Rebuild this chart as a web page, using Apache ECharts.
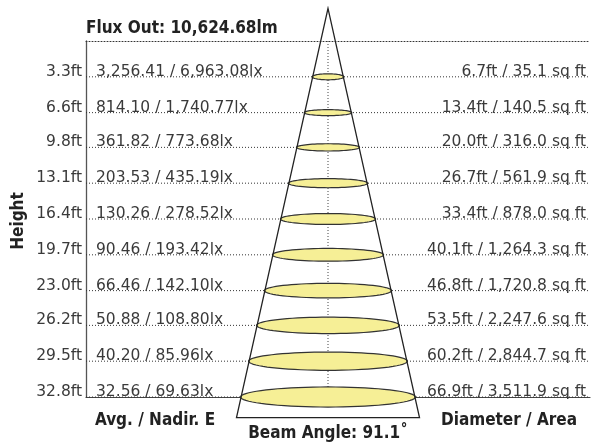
<!DOCTYPE html>
<html><head><meta charset="utf-8">
<script src="https://cdn.jsdelivr.net/npm/echarts@6/dist/echarts.min.js"></script>
<style>html,body{margin:0;padding:0;background:#fff}#c{width:592px;height:445px}</style>
</head><body><div id="c"></div>
<script>
// ---- data ----
const fluxOut = 10624.68;            // lm
const beamAngle = 91.1;              // degrees
const heights = [3.3, 6.6, 9.8, 13.1, 16.4, 19.7, 23.0, 26.2, 29.5, 32.8];   // ft
const avgLux = [3256.41, 814.10, 361.82, 203.53, 130.26, 90.46, 66.46, 50.88, 40.20, 32.56];
const nadirLux = [6963.08, 1740.77, 773.68, 435.19, 278.52, 193.42, 142.10, 108.80, 85.96, 69.63];
const diameters = [6.7, 13.4, 20.0, 26.7, 33.4, 40.1, 46.8, 53.5, 60.2, 66.9];  // ft
const areas = [35.1, 140.5, 316.0, 561.9, 878.0, 1264.3, 1720.8, 2247.6, 2844.7, 3511.9]; // sq ft

// ---- drawing constants (style) ----
const maxH = 32.8;
const apexH = -3.0;    // virtual apex of drawn cone (ft, above the top line)
const baseH = 34.7;    // bottom edge of drawn cone
const halfTan = Math.tan(beamAngle / 2 * Math.PI / 180);
const REG = "15.5px 'DejaVu Sans', sans-serif";
const BOLD = "bold 17px 'Liberation Sans Narrow', 'DejaVu Sans Condensed', sans-serif";
const TXT = '#3a3a3a';

function fmt(v, d) {
  const s = v.toFixed(d).split('.');
  s[0] = s[0].replace(/\B(?=(\d{3})+(?!\d))/g, ',');
  return s.join('.');
}

const chart = echarts.init(document.getElementById('c'), null, {renderer: 'canvas'});

const rowData = heights.map((h, i) => [h, i]);

const option = {
  animation: false,
  backgroundColor: '#fff',
  grid: [
    {left: 86, right: 2, top: 41, bottom: 48},
    {left: 228, width: 200, top: 41, bottom: 48}
  ],
  xAxis: [
    {gridIndex: 0, type: 'value', min: 0, max: 1, position: 'bottom',
     axisLine: {show: true, onZero: false, lineStyle: {color: '#444', width: 1.2}},
     axisTick: {show: false}, axisLabel: {show: false}, splitLine: {show: false}},
    {gridIndex: 0, type: 'value', min: 0, max: 1, position: 'top',
     axisLine: {show: true, onZero: false, lineStyle: {color: '#333', width: 1, type: [1, 2]}},
     axisTick: {show: false}, axisLabel: {show: false}, splitLine: {show: false}},
    {gridIndex: 1, type: 'value', min: -42, max: 42, show: false}
  ],
  yAxis: [
    {gridIndex: 0, type: 'value', min: 0, max: maxH, inverse: true,
     axisLine: {show: true, onZero: false, lineStyle: {color: '#555', width: 1.3}},
     axisTick: {show: false}, axisLabel: {show: false}, splitLine: {show: false}},
    {gridIndex: 1, type: 'value', min: 0, max: maxH, inverse: true, show: false}
  ],
  graphic: [
    {type: 'text', left: 86, top: 20, style: {text: 'Flux Out: ' + fmt(fluxOut, 2) + 'lm', font: BOLD, fill: '#222'}},
    {type: 'text', x: 19, y: 221, rotation: Math.PI / 2,
     style: {text: 'Height', font: BOLD, fill: '#222', align: 'center', verticalAlign: 'middle'}},
    {type: 'text', x: 155, y: 421, style: {text: 'Avg. / Nadir. E', font: BOLD, fill: '#222', align: 'center', verticalAlign: 'middle'}},
    {type: 'text', x: 509, y: 421, style: {text: 'Diameter / Area', font: BOLD, fill: '#222', align: 'center', verticalAlign: 'middle'}},
    {type: 'text', x: 328, y: 434, style: {text: 'Beam Angle: ' + beamAngle.toFixed(1) + '\u02DA', font: BOLD, fill: '#222', align: 'center', verticalAlign: 'middle'}}
  ],
  series: [
    {
      name: 'rows', type: 'custom', xAxisIndex: 0, yAxisIndex: 0, silent: true,
      data: rowData,
      renderItem: function (params, api) {
        const h = api.value(0), i = api.value(1);
        const y = api.coord([0, h])[1];
        const cs = params.coordSys;
        const x0 = cs.x, x1 = cs.x + cs.width;
        return {
          type: 'group',
          children: [
            {type: 'line', shape: {x1: x0, y1: y, x2: x1, y2: y},
             style: {stroke: '#333', lineWidth: 1, lineDash: [1, 2]}},
            {type: 'text', x: x0 - 4, y: y - 5,
             style: {text: heights[i].toFixed(1) + 'ft', font: REG, fill: TXT, align: 'right', verticalAlign: 'middle'}},
            {type: 'text', x: x0 + 10, y: y - 5,
             style: {text: fmt(avgLux[i], 2) + ' / ' + fmt(nadirLux[i], 2) + 'lx', font: REG, fill: TXT, align: 'left', verticalAlign: 'middle'}},
            {type: 'text', x: x1 - 4, y: y - 5,
             style: {text: diameters[i].toFixed(1) + 'ft / ' + fmt(areas[i], 1) + ' sq ft', font: REG, fill: TXT, align: 'right', verticalAlign: 'middle'}}
          ]
        };
      }
    },
    {
      name: 'axisCenter', type: 'custom', xAxisIndex: 2, yAxisIndex: 1, silent: true,
      data: [[0, 0, maxH]],
      renderItem: function (params, api) {
        const a = api.coord([api.value(0), api.value(1)]);
        const b = api.coord([api.value(0), api.value(2)]);
        return {type: 'line', shape: {x1: a[0], y1: a[1], x2: b[0], y2: b[1]},
                style: {stroke: '#444', lineWidth: 1, lineDash: [1, 2]}};
      }
    },
    {
      name: 'beams', type: 'custom', xAxisIndex: 2, yAxisIndex: 1, silent: true,
      data: rowData,
      renderItem: function (params, api) {
        const h = api.value(0);
        const half = (h - apexH) * halfTan;
        const c = api.coord([0, h]);
        const e = api.coord([half, h]);
        const rx = e[0] - c[0] + 0.5;
        const ry = Math.max(3, rx * 0.115);
        const pts = [];
        for (let k = 0; k < 72; k++) {
          const t = k / 72 * Math.PI * 2;
          pts.push([c[0] + rx * Math.cos(t), c[1] + ry * Math.sin(t)]);
        }
        return {type: 'polygon', shape: {points: pts},
                style: {fill: '#f6ef96', stroke: '#333', lineWidth: 1.2}};
      }
    },
    {
      name: 'cone', type: 'custom', xAxisIndex: 2, yAxisIndex: 1, silent: true,
      data: [[apexH, baseH]],
      renderItem: function (params, api) {
        const top = api.value(0), bot = api.value(1);
        const half = (bot - top) * halfTan;
        const apex = api.coord([0, top]);
        const bl = api.coord([-half, bot]);
        const br = api.coord([half, bot]);
        return {type: 'polygon', shape: {points: [apex, bl, br]},
                style: {fill: 'none', stroke: '#222', lineWidth: 1.3}};
      }
    }
  ]
};
chart.setOption(option);
</script>
</body></html>
